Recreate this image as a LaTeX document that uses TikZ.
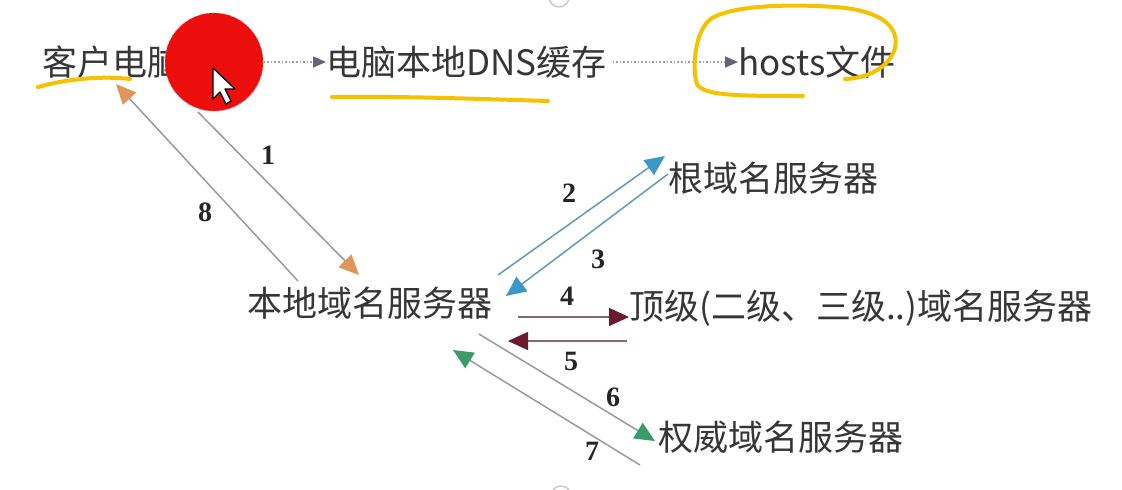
\documentclass[tikz,border=0pt]{standalone}
\usepackage{fontspec}
\setmainfont{Noto Sans CJK SC}
\newfontfamily\numfont{Liberation Serif}
\usetikzlibrary{arrows.meta}
\definecolor{txt}{HTML}{363636}
\definecolor{ln}{HTML}{9A9A9A}
\definecolor{orangeh}{HTML}{E0955A}
\definecolor{blueh}{HTML}{3B98C8}
\definecolor{redh}{HTML}{6E1A2E}
\definecolor{greenh}{HTML}{3A9A6A}
\definecolor{yell}{HTML}{F5C200}
\definecolor{dotc}{HTML}{A0A0AA}
\definecolor{dottip}{HTML}{6A6078}
\tikzset{
  lbl/.style={anchor=west,inner sep=0pt,text=txt,font=\fontsize{35}{38}\selectfont},
  num/.style={inner sep=0pt,text=black!85,font=\numfont\fontsize{28}{30}\selectfont\bfseries},
  conn/.style={draw=ln,line width=1.5pt},
  tipo/.style={-{Triangle[length=20pt,width=18pt,fill=#1,color=#1]}},
  dotline/.style={draw=dotc,line width=1.6pt,dotted,-{Triangle[length=13pt,width=11pt,fill=dottip,color=dottip]}},
  hl/.style={draw=yell,line width=4pt,line cap=round,line join=round}
}
\begin{document}
\begin{tikzpicture}[x=1pt,y=-1pt]
\useasboundingbox (0,0) rectangle (1122,490);
\fill[white] (0,0) rectangle (1122,490);
% faint rings at top and bottom edges
\draw[ln!60,line width=1.2pt] (559,-3) circle (10);
\draw[ln!60,line width=1.2pt] (561,496) circle (10);

% top row
\node[lbl] (client) at (42,62) {客户电脑};
\node[lbl] (cache) at (326,62) {电脑本地DNS缓存};
\node[lbl] (hosts) at (738,62) {hosts文件};
\draw[dotline] (client.east) ++(2,0) coordinate (c0) -- (cache.west);
\draw[dotline] (cache.east) ++(6,0) coordinate (c1) -- (hosts.west);

% servers
\node[lbl] (local) at (247,303) {本地域名服务器};
\node[lbl] (root) at (668,178) {根域名服务器};
\node[lbl] (tld) at (629,308) {顶级(二级、三级..)域名服务器};
\node[lbl] (auth) at (658,437) {权威域名服务器};

% coordinates
\coordinate (a1s) at (198,112);
\coordinate (a1e) at (359,275);
\coordinate (a8s) at (298,281);
\coordinate (a8e) at (116,84);
\coordinate (a2s) at (498,275);
\coordinate (a2e) at (665,156);
\coordinate (a3s) at (668,174);
\coordinate (a3e) at (506,296);
\coordinate (a4s) at (518,317);
\coordinate (a4e) at (629,317);
\coordinate (a5s) at (627,341);
\coordinate (a5e) at (508,341);
\coordinate (a6s) at (479,334);
\coordinate (a6e) at (655,441);
\coordinate (a7s) at (640,465);
\coordinate (a7e) at (453,350);

\draw[conn,tipo=orangeh] (a1s) -- (a1e);
\draw[conn,tipo=orangeh] (a8s) -- (a8e);
\draw[conn,draw=blueh!60!ln,tipo=blueh] (a2s) -- (a2e);
\draw[conn,draw=blueh!60!ln,tipo=blueh] (a3s) -- (a3e);
\draw[conn,draw=redh!40!ln,tipo=redh] (a4s) -- (a4e);
\draw[conn,draw=redh!40!ln,tipo=redh] (a5s) -- (a5e);
\draw[conn,tipo=greenh] (a6s) -- (a6e);
\draw[conn,tipo=greenh] (a7s) -- (a7e);

\node[num] (n1) at (268,155) {1};
\node[num] (n8) at (205,212) {8};
\node[num] (n2) at (569,193) {2};
\node[num] (n3) at (598,259) {3};
\node[num] (n4) at (567,296) {4};
\node[num] (n5) at (571,361) {5};
\node[num] (n6) at (613,397) {6};
\node[num] (n7) at (592,451) {7};

% yellow highlights
\draw[hl] (38,87) .. controls (70,78) and (105,76) .. (130,79);
\draw[hl] (332,97) .. controls (400,96) and (480,99) .. (548,101);
\draw[hl] (845,79) .. controls (870,78) and (890,66) .. (895,48)
  .. controls (900,25) and (878,10) .. (835,7)
  .. controls (790,4) and (735,5) .. (712,18)
  .. controls (694,30) and (692,70) .. (697,84)
  .. controls (703,96) and (740,96) .. (803,96);

% red pointer circle and cursor
\fill[red!92!black!95] (214,62) circle (49);
\draw[white!30!red,line width=0.6pt,dashed] (214,62) circle (49);
\filldraw[fill=white,draw=black,line width=1.2pt,line join=round]
  (213,68) -- (213,99) -- (220,92) -- (226,104) -- (231,101) -- (225,89) -- (235,89) -- cycle;
\end{tikzpicture}
\end{document}
